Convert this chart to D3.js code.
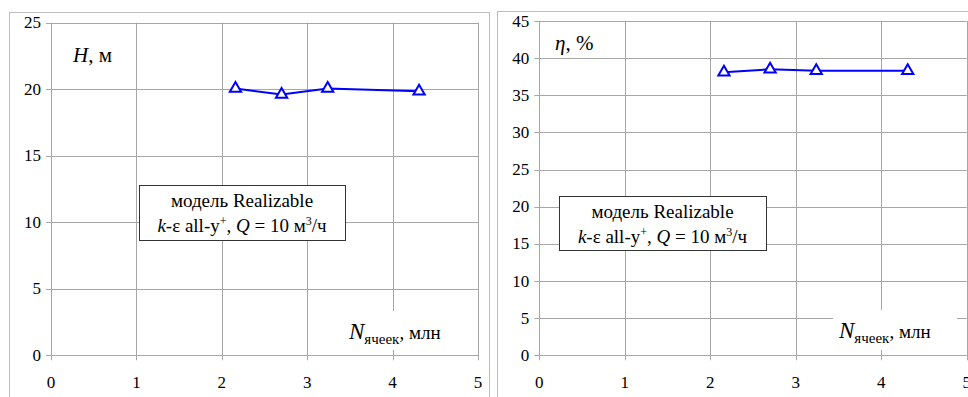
<!DOCTYPE html>
<html>
<head>
<meta charset="utf-8">
<script src="https://d3js.org/d3.v7.min.js"></script>
<style>
  #plot text, #plot tspan { font-family: 'Liberation Serif', 'Tinos', 'Times New Roman', 'FreeSerif', 'Noto Serif', monospace !important; }
</style>
</head>
<body style="margin:0; background:#fff">
<svg id="plot" width="968" height="397"></svg>
<script>
// Mesh size, million cells
const cellsMln = [2.16, 2.70, 3.24, 4.31];
// Head H, m
const headValues = [20.05, 19.6, 20.05, 19.85];
// Efficiency eta, %
const etaValues = [38.1, 38.5, 38.3, 38.3];

const xTicks = [0, 1, 2, 3, 4, 5];
const headTicks = [0, 5, 10, 15, 20, 25];
const etaTicks = [0, 5, 10, 15, 20, 25, 30, 35, 40, 45];

const FONT = "'Liberation Serif', 'Tinos', 'Times New Roman', 'FreeSerif', monospace";
const root = d3.select('#plot');

const addText = function(sel, size) {
  return sel.append('text')
    .attr('font-family', FONT)
    .style('font-family', FONT)
    .attr('font-size', size)
    .attr('fill', '#000');
};

const drawChart = function(opts) {
  const g = root.append('g').attr('font-family', FONT);

  // Outer frame
  g.append('rect')
    .attr('x', opts.frame[0] + 0.5).attr('y', opts.frame[1] + 0.5)
    .attr('width', opts.frame[2]).attr('height', opts.frame[3])
    .attr('fill', '#fff').attr('stroke', '#bdbdbd').attr('stroke-width', 1);

  const x = d3.scaleLinear().domain([0, 5]).range([opts.left, opts.right]);
  const y = d3.scaleLinear().domain([0, opts.yMax]).range([opts.bottom, opts.top]);

  // Grid
  g.selectAll('line.hgrid').data(opts.yTicks).join('line')
    .attr('class', 'hgrid')
    .attr('x1', opts.left - 5).attr('x2', opts.right)
    .attr('y1', d => Math.round(y(d)) + 0.5).attr('y2', d => Math.round(y(d)) + 0.5)
    .attr('stroke', '#a6a6a6').attr('stroke-width', 1);

  g.selectAll('line.vgrid').data(xTicks).join('line')
    .attr('class', 'vgrid')
    .attr('x1', d => Math.round(x(d)) + 0.5).attr('x2', d => Math.round(x(d)) + 0.5)
    .attr('y1', opts.top).attr('y2', opts.bottom + 5)
    .attr('stroke', '#a6a6a6').attr('stroke-width', 1);

  // Tick labels
  g.selectAll('text.ylab').data(opts.yTicks).join('text')
    .attr('class', 'ylab')
    .attr('x', opts.left - 10).attr('y', d => y(d) + 5.5)
    .attr('text-anchor', 'end')
    .attr('font-family', FONT)
    .style('font-family', FONT)
    .attr('font-size', 17)
    .text(d => d);

  g.selectAll('text.xlab').data(xTicks).join('text')
    .attr('class', 'xlab')
    .attr('x', d => x(d)).attr('y', opts.bottom + 33)
    .attr('text-anchor', 'middle')
    .attr('font-family', FONT)
    .style('font-family', FONT)
    .attr('font-size', 17)
    .text(d => d);

  // Axis title for x, on a white patch
  g.append('rect')
    .attr('x', opts.nBox[0]).attr('y', opts.nBox[1])
    .attr('width', opts.nBox[2]).attr('height', opts.nBox[3])
    .attr('fill', '#fff');
  const nt = addText(g, 19)
    .attr('x', opts.nBox[0] + 6).attr('y', opts.nBox[1] + 28);
  nt.append('tspan').attr('font-style', 'italic').attr('font-size', 23).text('N');
  nt.append('tspan').attr('dy', 5).attr('font-size', 15).text('ячеек');
  nt.append('tspan').attr('dy', -5).text(', млн');

  // y title
  const yt = addText(g, 21)
    .attr('x', opts.yTitle[0]).attr('y', opts.yTitle[1]);
  yt.append('tspan').attr('font-style', 'italic').text(opts.yTitleSym);
  yt.append('tspan').text(opts.yTitleUnit);

  // Annotation box
  const b = opts.annot;
  g.append('rect')
    .attr('x', b[0] + 0.5).attr('y', b[1] + 0.5)
    .attr('width', b[2]).attr('height', b[3])
    .attr('fill', '#fff').attr('stroke', '#333').attr('stroke-width', 1);
  const cx = b[0] + b[2] / 2;
  addText(g, 19)
    .attr('x', cx).attr('y', b[1] + 22)
    .attr('text-anchor', 'middle')
    .text('модель Realizable');
  const l2 = addText(g, 19)
    .attr('x', cx).attr('y', b[1] + 47)
    .attr('text-anchor', 'middle');
  l2.append('tspan').attr('font-style', 'italic').text('k');
  l2.append('tspan').text('-ε all-y');
  l2.append('tspan').attr('dy', -7).attr('font-size', 12).text('+');
  l2.append('tspan').attr('dy', 7).text(', ');
  l2.append('tspan').attr('font-style', 'italic').text('Q');
  l2.append('tspan').text(' = 10 м');
  l2.append('tspan').attr('dy', -7).attr('font-size', 12).text('3');
  l2.append('tspan').attr('dy', 7).text('/ч');

  // Series
  const pts = cellsMln.map((c, i) => [c, opts.values[i]]);
  g.append('path')
    .datum(pts)
    .attr('fill', 'none')
    .attr('stroke', '#0000ff')
    .attr('stroke-width', 2)
    .attr('d', d3.line().x(d => x(d[0])).y(d => y(d[1])));

  const tri = d3.symbol().type(d3.symbolTriangle).size(55);
  g.selectAll('path.marker').data(pts).join('path')
    .attr('class', 'marker')
    .attr('transform', d => 'translate(' + x(d[0]) + ',' + y(d[1]) + ')')
    .attr('d', tri)
    .attr('fill', '#fff')
    .attr('stroke', '#0000ff')
    .attr('stroke-width', 2);
};

drawChart({
  frame: [9, 12, 480, 400],
  left: 51, right: 478, top: 22.7, bottom: 355.3,
  yMax: 25, yTicks: headTicks, values: headValues,
  yTitle: [73, 62], yTitleSym: 'H', yTitleUnit: ', м',
  annot: [139, 185, 206, 55],
  nBox: [343, 311, 120, 39]
});

drawChart({
  frame: [497, 11, 480, 400],
  left: 539.3, right: 966.7, top: 21, bottom: 355.3,
  yMax: 45, yTicks: etaTicks, values: etaValues,
  yTitle: [555, 50], yTitleSym: 'η', yTitleUnit: ', %',
  annot: [559, 196, 207, 54],
  nBox: [833, 310, 124, 40]
});
</script>
</body>
</html>
